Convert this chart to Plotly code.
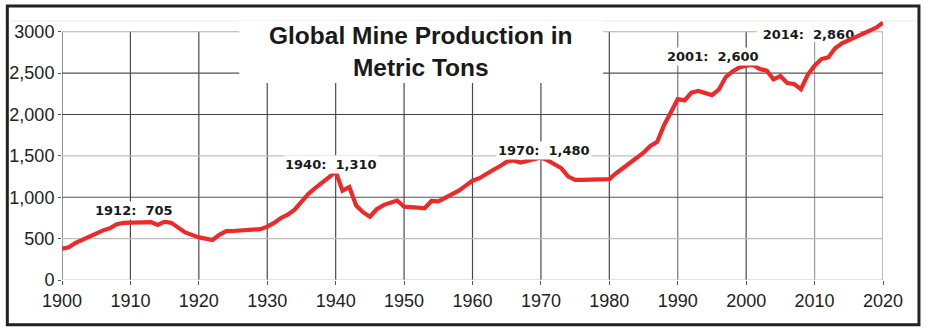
import plotly.graph_objects as go

# ---------------- data ----------------
years = list(range(1900, 2021))
production = [
    380, 395, 450, 490, 525, 570, 600, 625, 675, 690,      # 1900-1909
    693, 700, 705, 700, 665, 705, 690, 630, 575, 545,      # 1910-1919
    515, 500, 484, 545, 590, 592, 595, 598, 600, 615,      # 1920-1929
    645, 690, 750, 790, 850, 940, 1040, 1110, 1170, 1240,  # 1930-1939
    1310, 1080, 1125, 900, 820, 765, 855, 905, 935, 960,   # 1940-1949
    886, 886, 875, 867, 955, 950, 995, 1035, 1080, 1140,   # 1950-1959
    1200, 1230, 1285, 1330, 1375, 1430, 1445, 1420, 1440, 1455,  # 1960-1969
    1480, 1445, 1400, 1350, 1250, 1210, 1210, 1212, 1210, 1212,  # 1970-1979
    1220, 1290, 1350, 1410, 1470, 1540, 1620, 1670, 1870, 2020,  # 1980-1989
    2185, 2170, 2265, 2285, 2260, 2235, 2300, 2450, 2520, 2570,  # 1990-1999
    2590, 2600, 2550, 2530, 2425, 2465, 2380, 2370, 2305, 2480,  # 2000-2009
    2590, 2670, 2690, 2800, 2860, 2900, 2930, 2970, 3010, 3050,  # 2010-2019
    3110,                                                         # 2020
]

x_ticks = [1900, 1910, 1920, 1930, 1940, 1950, 1960, 1970, 1980, 1990, 2000, 2010, 2020]
y_ticks = [0, 500, 1000, 1500, 2000, 2500, 3000]
y_tick_text = ["0", "500", "1,000", "1,500", "2,000", "2,500", "3000"]

label_years = [1912, 1940, 1970, 2001]
label_values = [705, 1310, 1480, 2600]
label_texts = ["1912:  705", "1940:  1,310", "1970:  1,480", "2001:  2,600"]
last_label_text = "2014:  2,860"

title_text = "Global Mine Production in<br>Metric Tons"

# ---------------- styles ----------------
vgrid_colors = {1990: "#7a7a7a", 2010: "#9a9a9a", 2020: "#8a8a8a"}
hgrid_colors = {0: "#c8c8c8", 500: "#bdbdbd", 1000: "#555555", 1500: "#c0c0c0",
                2000: "#444444", 2500: "#555555", 3000: "#b0b0b0"}
tick_font = dict(family="Liberation Sans Narrow, Arial Narrow, Liberation Sans, sans-serif",
                 size=18, color="#222222")
label_font = dict(family="DejaVu Sans, Verdana, sans-serif", size=13, color="#1a1a1a",
                  weight="bold")
# label offsets (years, tons) relative to data point
label_dx = [-1.5, -0.7, 0.4, -5.8]
label_dy = [130, 80, 80, 97]

fig = go.Figure()

fig.add_trace(go.Scatter(
    x=years, y=production, mode="lines",
    line=dict(color="#ec2a2a", width=4.2),
    hoverinfo="skip", showlegend=False,
))

shapes = []
# vertical grid lines
for xv in x_ticks:
    shapes.append(dict(type="line", xref="x", yref="y", x0=xv, x1=xv,
                       y0=y_ticks[0], y1=y_ticks[-1], layer="below",
                       line=dict(color=vgrid_colors.get(xv, "#4a4a4a"), width=1.2)))
# horizontal grid lines
for yv in y_ticks:
    shapes.append(dict(type="line", xref="x", yref="y", x0=x_ticks[0], x1=x_ticks[-1],
                       y0=yv, y1=yv, layer="below",
                       line=dict(color=hgrid_colors.get(yv, "#777"), width=1.2)))

# white box behind the title (hides grid, not the data line)
shapes.append(dict(type="rect", xref="x", yref="y", x0=1925.9, x1=1979.1,
                   y0=2382, y1=3200, layer="between",
                   fillcolor="white", line=dict(width=0)))
# white box with the 2014 label, drawn under the line
shapes.append(dict(type="rect", xref="x", yref="y", x0=2001.6, x1=2016.6,
                   y0=2878, y1=3075, layer="between",
                   fillcolor="white", line=dict(width=0),
                   label=dict(text=last_label_text, font=label_font,
                              textposition="middle center")))

# outer frame
shapes.append(dict(type="rect", xref="paper", yref="paper",
                   x0=-0.0666, x1=1.0438, y0=-0.1725, y1=1.0575,
                   line=dict(color="#222222", width=3), fillcolor="rgba(0,0,0,0)",
                   layer="above"))
# faint line near the top of the frame
shapes.append(dict(type="line", xref="paper", yref="paper",
                   x0=-0.062, x1=1.04, y0=1.0, y1=1.0,
                   line=dict(color="#ececec", width=1), layer="below"))

annotations = []
for yr, val, txt, dx, dy in zip(label_years, label_values, label_texts, label_dx, label_dy):
    annotations.append(dict(x=yr + dx, y=val + dy, xref="x", yref="y", text=txt,
                            showarrow=False, font=label_font, bgcolor="white",
                            borderpad=1))

annotations.append(dict(x=0.4369, y=0.882, xref="paper", yref="paper",
                        text=title_text, showarrow=False,
                        font=dict(family="Liberation Sans, Arial, sans-serif", size=24.5,
                                  color="#1a1a1a", weight="bold"),
                        xanchor="center", yanchor="middle", align="center"))

fig.update_layout(
    width=928, height=334,
    margin=dict(l=62, r=45, t=21, b=54, autoexpand=False),
    paper_bgcolor="white", plot_bgcolor="white",
    shapes=shapes, annotations=annotations,
    showlegend=False,
    xaxis=dict(range=[1900, 2020], tickvals=x_ticks, ticktext=[str(v) for v in x_ticks],
               showgrid=False, zeroline=False, showline=False, automargin=False,
               ticks="outside", ticklen=4, tickcolor="#555", tickwidth=1,
               tickfont=tick_font, fixedrange=True),
    yaxis=dict(range=[0, 3130], tickvals=y_ticks, ticktext=y_tick_text,
               showgrid=False, zeroline=False, showline=False, automargin=False,
               ticks="outside", ticklen=3, tickcolor="#555", tickwidth=1,
               tickfont=tick_font, fixedrange=True),
)

fig.write_html("out.html")
